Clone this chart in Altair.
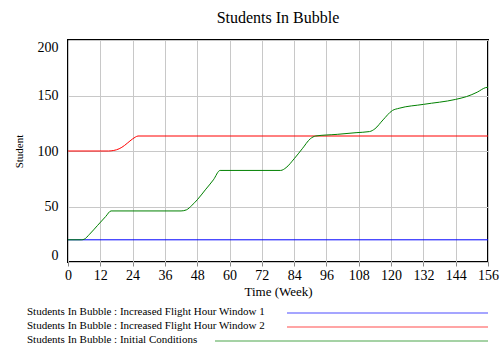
import altair as alt
import pandas as pd

# Simulation output, weeks vs. students in bubble
weeks_w1 = [0, 156]
students_w1 = [20, 20]

weeks_w2 = [0, 15, 17, 19, 21, 23, 25, 26, 156]
students_w2 = [100, 100, 100.5, 102, 105, 109, 112.5, 113.5, 113.5]

weeks_ic = [0, 5, 6, 8, 11, 14, 16, 42, 44, 46, 48, 51, 54, 56.5, 79, 81, 84, 87, 90, 92,
            100, 107, 112, 114, 117, 120.5, 123, 132, 144, 148, 152, 155, 156]
students_ic = [20, 20, 20.5, 25, 33, 41, 46, 46, 47, 51, 56, 65, 74, 82.5, 82.5, 85, 93, 102, 111, 113.5,
               115, 116.5, 117.5, 120, 128, 136.5, 138.5, 142, 146.5, 149, 153, 157, 157.5]

series_names = [
    "Students In Bubble : Increased Flight Hour Window 1",
    "Students In Bubble : Increased Flight Hour Window 2",
    "Students In Bubble : Initial Conditions",
]
series_colors = ["#0000ff", "#ff0000", "#008000"]
x_ticks = list(range(0, 157, 12))
y_ticks = [0, 50, 100, 150, 200]

FONT = "Liberation Serif"
W, H = 420, 222

x_scale = alt.Scale(domain=[0, 156], nice=False, zero=False)
y_scale = alt.Scale(domain=[0, 200], nice=False)

x_axis = alt.Axis(values=x_ticks, title="Time (Week)", labelFont=FONT, labelFontSize=14,
                  titleFont=FONT, titleFontSize=13, titleFontWeight="normal", labelPadding=2,
                  titlePadding=3, grid=True, gridColor="#c8c8c8", domain=False,
                  labelFlush=False, labelOverlap=False, labelBound=False,
                  tickSize=4, tickColor="#888888", labelColor="black", titleColor="black")
y_axis = alt.Axis(values=y_ticks, title="Student", labelFont=FONT, labelFontSize=14,
                  titleFont=FONT, titleFontSize=11, titleFontWeight="normal", labelPadding=10,
                  titlePadding=13, grid=True, gridColor="#c8c8c8", domain=False, ticks=False,
                  labelFlush=True, labelColor="black", titleColor="black")

def series_frame(weeks, vals, name):
    return pd.DataFrame({"week": weeks, "students": vals, "series": name})

frames = [
    series_frame(weeks_w1, students_w1, series_names[0]),
    series_frame(weeks_w2, students_w2, series_names[1]),
    series_frame(weeks_ic, students_ic, series_names[2]),
]

layers = []
for i, df in enumerate(frames):
    layers.append(
        alt.Chart(df).mark_line(color=series_colors[i], strokeWidth=1, interpolate="monotone").encode(
            x=alt.X("week:Q", scale=x_scale, axis=x_axis),
            y=alt.Y("students:Q", scale=y_scale, axis=y_axis),
        )
    )

# Legend below the axis: label on the left, line sample to the right
legend_rows_y = [272, 286, 300]
legend_line_start = [219, 219, 147]
for i, name in enumerate(series_names):
    ldf = pd.DataFrame({"label": [name]})
    layers.append(
        alt.Chart(ldf).mark_text(align="left", baseline="middle", font=FONT, fontSize=11, color="black")
        .encode(x=alt.value(-41), y=alt.value(legend_rows_y[i]), text="label:N")
    )
    layers.append(
        alt.Chart(ldf).mark_rule(color=series_colors[i], strokeWidth=1.2, opacity=0.7)
        .encode(x=alt.value(legend_line_start[i]), x2=alt.value(W), y=alt.value(legend_rows_y[i] + 1))
    )

chart = (
    alt.layer(*layers)
    .properties(
        width=W,
        height=H,
        title=alt.TitleParams("Students In Bubble", font=FONT, fontSize=16, fontWeight="normal",
                              color="black", anchor="middle", offset=14),
        autosize=alt.AutoSizeParams(type="none"),
        padding={"left": 68, "top": 40, "right": 14, "bottom": 84},
        background="white",
    )
    .configure_view(stroke="black", strokeWidth=2)
)

chart.save("out.html", embed_options={"renderer": "svg", "actions": False})
